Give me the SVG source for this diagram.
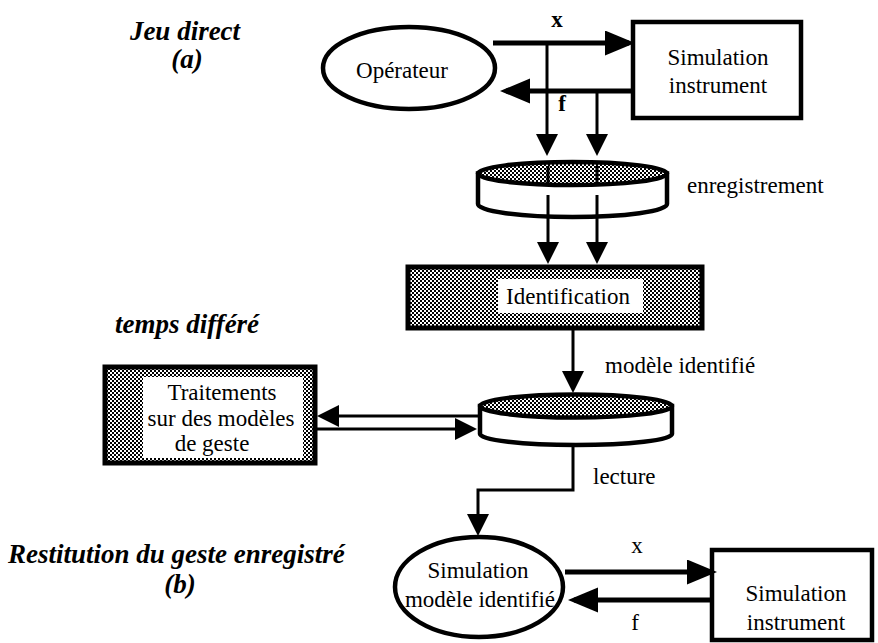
<svg xmlns="http://www.w3.org/2000/svg" width="878" height="643" viewBox="0 0 878 643">
<style>
.t{font-family:"Liberation Serif","Times New Roman",serif;font-size:23px;fill:#000}
.h{font-family:"Liberation Serif","Times New Roman",serif;font-size:27px;font-weight:bold;font-style:italic;fill:#000}
.b{font-weight:bold}
.thick{fill:none;stroke:#000;stroke-width:5}
.thin{fill:none;stroke:#000;stroke-width:3}
.node{stroke:#000;stroke-width:4.5}
</style>
<defs>
<pattern id="dots" width="4" height="4" patternUnits="userSpaceOnUse">
<rect width="4" height="4" fill="#fff"/>
<rect width="2" height="2" fill="#000"/>
<rect x="2" y="2" width="2" height="2" fill="#000"/>
</pattern>
<marker id="big" markerUnits="userSpaceOnUse" markerWidth="32" markerHeight="26" refX="24" refY="12.5" orient="auto">
<path d="M0,0 L30,12.5 L0,25 Z" fill="#000"/>
</marker>
<marker id="small" markerUnits="userSpaceOnUse" markerWidth="24" markerHeight="24" refX="17" refY="11" orient="auto">
<path d="M0,0 L22,11 L0,22 Z" fill="#000"/>
</marker>
</defs>
<rect width="878" height="643" fill="#fff"/>

<g id="titles">
<text class="h" x="185" y="40" text-anchor="middle">Jeu direct</text>
<text class="h" x="187" y="68" text-anchor="middle">(a)</text>
<text class="h" x="187" y="333" text-anchor="middle">temps différé</text>
<text class="h" x="8" y="563">Restitution du geste enregistré</text>
<text class="h" x="180" y="593" text-anchor="middle">(b)</text>
</g>

<g id="operateur">
<ellipse class="node" cx="409" cy="68" rx="86" ry="41" fill="#fff"/>
<text class="t" x="402" y="78" text-anchor="middle">Opérateur</text>
</g>

<g id="simulation-instrument-a">
<rect class="node" x="633" y="22" width="168" height="96" fill="#fff"/>
<text class="t" x="718" y="65" text-anchor="middle">Simulation</text>
<text class="t" x="718" y="93" text-anchor="middle">instrument</text>
</g>

<g id="enregistrement">
<path class="node" d="M478,173.5 V204 A94.5,13 0 0 0 667,204 V173.5 Z" fill="#fff"/>
<ellipse class="node" cx="572.5" cy="173.5" rx="94.5" ry="11.5" fill="url(#dots)"/>
<text class="t" x="687" y="193">enregistrement</text>
</g>

<g id="identification">
<rect x="408" y="267" width="294" height="61" fill="url(#dots)" stroke="#000" stroke-width="5"/>
<rect x="498" y="279" width="145" height="34" fill="#fff"/>
<text class="t" x="568" y="304" text-anchor="middle">Identification</text>
</g>

<g id="modele-stocke">
<path class="node" d="M480,406 V434 A96,11 0 0 0 672,434 V406 Z" fill="#fff"/>
<ellipse class="node" cx="576" cy="406" rx="96" ry="11.5" fill="url(#dots)"/>
</g>

<g id="traitements">
<rect x="105" y="367" width="210" height="96" fill="url(#dots)" stroke="#000" stroke-width="5"/>
<rect x="143" y="377" width="160" height="81" fill="#fff"/>
<text class="t" x="222" y="400" text-anchor="middle">Traitements</text>
<text class="t" x="221" y="426" text-anchor="middle">sur des modèles</text>
<text class="t" x="212" y="451" text-anchor="middle">de geste</text>
</g>

<g id="simulation-modele">
<ellipse class="node" cx="479" cy="587" rx="84" ry="50" fill="#fff"/>
<text class="t" x="478" y="578" text-anchor="middle">Simulation</text>
<text class="t" x="480" y="607" text-anchor="middle">modèle identifié</text>
</g>

<g id="simulation-instrument-b">
<rect class="node" x="712" y="550" width="160" height="90" fill="#fff"/>
<text class="t" x="796" y="601" text-anchor="middle">Simulation</text>
<text class="t" x="796" y="630" text-anchor="middle">instrument</text>
</g>

<g id="connectors">
<path class="thick" d="M493,43 H629" marker-end="url(#big)"/>
<path class="thick" d="M633,91 H506" marker-end="url(#big)"/>
<path class="thin" d="M547,43 V151" marker-end="url(#small)"/>
<path class="thin" d="M597,91 V151" marker-end="url(#small)"/>
<path class="thin" d="M548,166 V183 M597,166 V183"/>
<path class="thin" d="M548,195 V259" marker-end="url(#small)"/>
<path class="thin" d="M597,195 V259" marker-end="url(#small)"/>
<path class="thin" d="M573,328 V388" marker-end="url(#small)"/>
<path class="thin" d="M480,416 H322" marker-end="url(#small)"/>
<path class="thin" d="M315,429 H472" marker-end="url(#small)"/>
<path class="thin" d="M573,445 V490 H478 V531" marker-end="url(#small)"/>
<path class="thick" d="M565,572 H711" marker-end="url(#big)"/>
<path class="thick" d="M712,600 H574" marker-end="url(#big)"/>
<text class="t b" x="557" y="27" text-anchor="middle">x</text>
<text class="t b" x="562" y="111" text-anchor="middle">f</text>
<text class="t" x="605" y="373">modèle identifié</text>
<text class="t" x="593" y="484">lecture</text>
<text class="t" x="637" y="553" text-anchor="middle">x</text>
<text class="t" x="635" y="630" text-anchor="middle">f</text>
</g>
</svg>
